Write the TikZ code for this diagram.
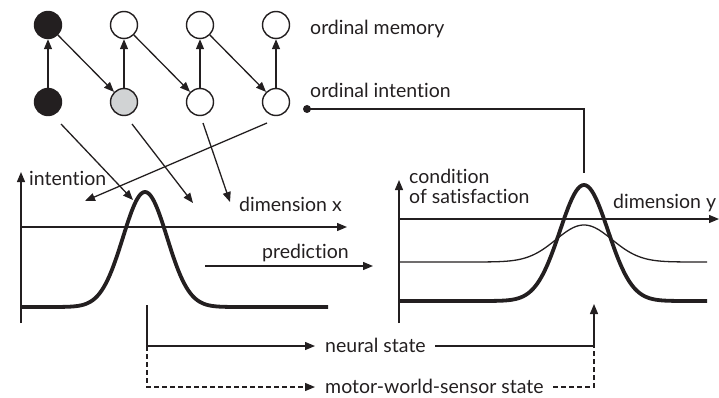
\documentclass[tikz,border=0pt]{standalone}
\usepackage{fontspec}
\setmainfont{Lato}[Ligatures={NoCommon}]
\usetikzlibrary{arrows.meta}
\definecolor{ink}{HTML}{231F20}
\definecolor{pale}{HTML}{D1D3D4}
\tikzset{
  unit/.style={circle, draw=ink, line width=1.4pt, minimum size=27pt, inner sep=0pt},
  arr/.style={draw=ink, line width=1.3pt, -{Triangle[length=10pt,width=8pt]}},
  ln/.style={draw=ink, line width=1.3pt},
  dline/.style={draw=ink, line width=1.3pt, dash pattern=on 5pt off 3pt},
  lbl/.style={font=\fontsize{19.5}{22}\selectfont, text=ink, inner sep=0pt, anchor=base west},
  thickcurve/.style={draw=ink, line width=3.8pt},
  thincurve/.style={draw=ink, line width=1.3pt},
}
\begin{document}
\begin{tikzpicture}[x=1pt,y=-1pt]
\useasboundingbox (0,0) rectangle (719,398);
% ordinal memory row
\node[unit, fill=ink] (m1) at (48,25) {};
\node[unit, fill=white] (m2) at (124,25) {};
\node[unit, fill=white] (m3) at (200,25) {};
\node[unit, fill=white] (m4) at (276,25) {};
% ordinal intention row
\node[unit, fill=ink] (i1) at (48,102) {};
\node[unit, fill=pale] (i2) at (124,102) {};
\node[unit, fill=white] (i3) at (200,102) {};
\node[unit, fill=white] (i4) at (276,102) {};
\foreach \k in {1,2,3,4} { \draw[arr] (i\k) -- (m\k); }
\draw[arr] (m1) -- (i2);
\draw[arr] (m2) -- (i3);
\draw[arr] (m3) -- (i4);
\node[lbl] (lmem) at (310,35) {ordinal memory};
\node[lbl] (lint) at (310,98) {ordinal intention};
% projections into intention field
\coordinate (s1) at (61,124);  \coordinate (e1) at (133,200);
\coordinate (s2) at (132,124); \coordinate (e2) at (193,203);
\coordinate (s3) at (203,123); \coordinate (e3) at (230,202);
\coordinate (s4) at (267,123); \coordinate (e4) at (85,201);
\foreach \k in {1,2,3,4} { \draw[arr] (s\k) -- (e\k); }
% left field axes
\coordinate (lo) at (21,323);
\coordinate (ltop) at (21,172);
\coordinate (lx0) at (21,227);
\coordinate (lx1) at (347,227);
\draw[arr] (lo) -- (ltop);
\draw[arr] (lx0) -- (lx1);
\node[lbl] (tint) at (29,185) {intention};
\node[lbl] (tdx) at (239,211) {dimension x};
% left thick curve
\draw[thickcurve] (21,307) -- (55,307)
  -- plot[domain=55:235, samples=121] (\x, {307-115*exp(-0.5*((\x-145)/22)^2)})
  -- (328,307);
% prediction
\node[lbl] (tpred) at (262,258) {prediction};
\coordinate (p0) at (205,266);
\coordinate (p1) at (373,266);
\draw[arr] (p0) -- (p1);
% right field axes
\coordinate (ro) at (399,323);
\coordinate (rtop) at (399,180);
\coordinate (rx0) at (399,219);
\coordinate (rx1) at (719,219);
\draw[arr] (ro) -- (rtop);
\draw[arr] (rx0) -- (rx1);
\node[lbl] (tcond) at (409,183) {condition};
\node[lbl] (tsat) at (409,203) {of satisfaction};
\node[lbl] (tdy) at (613,208) {dimension y};
% right curves
\draw[thincurve] (399,262) -- (464,262)
  -- plot[domain=464:704, samples=121] (\x, {262-37*exp(-0.5*((\x-584)/28)^2)})
  -- (707,262);
\draw[thickcurve] (399,301) -- (489,301)
  -- plot[domain=489:679, samples=121] (\x, {301-116*exp(-0.5*((\x-584)/24)^2)})
  -- (707,301);
% ordinal intention link to right field
\node[circle, fill=ink, inner sep=0pt, minimum size=8pt] (dot) at (307,109) {};
\coordinate (c1) at (584,109);
\coordinate (c2) at (584,173);
\draw[ln] (dot.center) -- (c1) -- (c2);
% bottom: neural state and motor-world-sensor state
\coordinate (t0) at (147,305);
\coordinate (t1) at (147,346);
\coordinate (t2) at (147,387);
\node[lbl] (tns) at (325,352) {neural state};
\node[lbl] (tmw) at (325,393) {motor-world-sensor state};
\coordinate (n1) at (315,346);
\coordinate (n2) at (435,346);
\coordinate (n3) at (594,346);
\coordinate (n4) at (594,304);
\coordinate (d1) at (315,387);
\coordinate (d2) at (553,387);
\coordinate (d3) at (594,387);
\draw[ln] (t0) -- (t1);
\draw[arr] (t1) -- (n1);
\draw[arr] (n2) -- (n3) -- (n4);
\draw[dline, -{Triangle[length=10pt,width=8pt]}] (t1) -- (t2) -- (d1);
\draw[dline] (d2) -- (d3) -- (n3);
\end{tikzpicture}
\end{document}
